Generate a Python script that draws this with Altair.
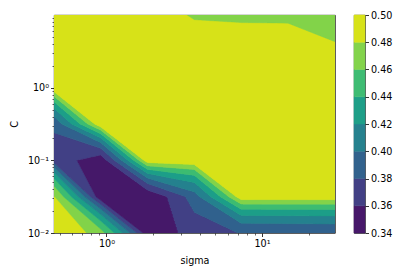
import numpy as np
import pandas as pd
import altair as alt

# grid of the parameter search
sigma = [0.46, 0.92, 1.84, 3.68, 7.36, 14.72, 29.44]
C_values = [0.01, 0.0316, 0.1, 0.316, 1.0, 3.16, 10.0]

# scores, one list per C value (bottom to top), across sigma
score_C0 = [0.500, 0.468, 0.345, 0.371, 0.381, 0.382, 0.383]
score_C1 = [0.482, 0.341, 0.344, 0.392, 0.495, 0.495, 0.495]
score_C2 = [0.369, 0.347, 0.496, 0.500, 0.500, 0.500, 0.500]
score_C3 = [0.386, 0.500, 0.500, 0.500, 0.500, 0.500, 0.500]
score_C4 = [0.500, 0.500, 0.500, 0.500, 0.500, 0.500, 0.500]
score_C5 = [0.500, 0.500, 0.500, 0.500, 0.500, 0.500, 0.482]
score_C6 = [0.500, 0.500, 0.500, 0.475, 0.471, 0.470, 0.470]

levels = [0.34, 0.36, 0.38, 0.40, 0.42, 0.44, 0.46, 0.48, 0.50]
band_colors = ["#47186A", "#424085", "#32628D", "#26818E",
               "#1E9F88", "#3EBC73", "#83D34B", "#D7E219"]

x_ticks = [0.5, 0.6, 0.7, 0.8, 0.9, 1, 2, 3, 4, 5, 6, 7, 8, 9, 10, 20]
y_ticks = [round(k * 10.0 ** e, 10) for e in (-2, -1, 0) for k in range(1, 10)]

# ---- filled-contour geometry (linear interpolation along grid edges) ----
S = np.array(sigma)
Cv = np.array(C_values)
Z = np.array([score_C0, score_C1, score_C2, score_C3, score_C4, score_C5, score_C6])
LX = np.log10(S)
LY = np.log10(Cv)
nb = len(levels) - 1


def cell_polys(i, j):
    corners = [(i, j), (i, j + 1), (i + 1, j + 1), (i + 1, j)]
    out = []
    for b in range(nb):
        lo, hi = levels[b], levels[b + 1]
        pts = []
        for k in range(4):
            p = corners[k]
            q = corners[(k + 1) % 4]
            zp, zq = Z[p], Z[q]
            if lo <= zp <= hi:
                pts.append((LX[p[1]], LY[p[0]]))
            ts = []
            for L in (lo, hi):
                if (zp - L) * (zq - L) < 0:
                    ts.append((L - zp) / (zq - zp))
            for t in sorted(ts):
                s = S[p[1]] + t * (S[q[1]] - S[p[1]])
                c = Cv[p[0]] + t * (Cv[q[0]] - Cv[p[0]])
                pts.append((np.log10(s), np.log10(c)))
        if len(pts) >= 3:
            out.append((b, pts))
    return out


polys = {(i, j): cell_polys(i, j) for i in range(len(Cv) - 1) for j in range(len(S) - 1)}
ncol = 281
xmin, xmax = LX[0], LX[-1]
dx = (xmax - xmin) / ncol
recs = []
for k in range(ncol):
    xc = xmin + (k + 0.5) * dx
    j = int(min(max(np.searchsorted(LX, xc) - 1, 0), len(S) - 2))
    segs = []
    for i in range(len(Cv) - 1):
        for b, pts in polys[(i, j)]:
            ys = []
            n = len(pts)
            for m in range(n):
                (ax_, ay_), (bx_, by_) = pts[m], pts[(m + 1) % n]
                if (ax_ <= xc < bx_) or (bx_ <= xc < ax_):
                    ys.append(ay_ + (xc - ax_) * (by_ - ay_) / (bx_ - ax_))
            ys.sort()
            for m in range(0, len(ys) - 1, 2):
                segs.append([ys[m], ys[m + 1], b])
    segs.sort()
    merged = []
    for sg in segs:
        if merged and merged[-1][2] == sg[2] and abs(merged[-1][1] - sg[0]) < 1e-7:
            merged[-1][1] = sg[1]
        else:
            merged.append(list(sg))
    for y0, y1, b in merged:
        recs.append({"s0": 10 ** (xmin + k * dx), "s1": 10 ** (xmin + (k + 1) * dx),
                     "c0": 10 ** y0, "c1": 10 ** y1, "band": b})

df = pd.DataFrame(recs)

color_scale = alt.Scale(domain=list(range(nb)), range=band_colors)

major_test = "abs(log(datum.value)/LN10 - round(log(datum.value)/LN10)) < 1e-6"
tick_size = {"condition": {"test": major_test, "value": 3.5}, "value": 2}
tick_width = {"condition": {"test": major_test, "value": 0.8}, "value": 0.6}

x_labels = "datum.value == 1 ? '10\u2070' : (datum.value == 10 ? '10\u00b9' : '')"
y_labels = ("abs(datum.value - 0.01) < 1e-9 ? '10\u207b\u00b2' : "
            "(abs(datum.value - 0.1) < 1e-9 ? '10\u207b\u00b9' : "
            "(abs(datum.value - 1) < 1e-9 ? '10\u2070' : ''))")

main = alt.Chart(df).mark_rect(strokeWidth=0.5, clip=True).encode(
    x=alt.X("s0:Q", scale=alt.Scale(type="log", domain=[sigma[0], sigma[-1]], nice=False),
            axis=alt.Axis(title="sigma", values=x_ticks, labelExpr=x_labels,
                          tickSize=tick_size, tickWidth=tick_width, labelOverlap=False,
                          titlePadding=7)),
    x2="s1:Q",
    y=alt.Y("c0:Q", scale=alt.Scale(type="log", domain=[C_values[0], C_values[-1]], nice=False),
            axis=alt.Axis(title="C", values=y_ticks, labelExpr=y_labels,
                          tickSize=tick_size, tickWidth=tick_width, labelOverlap=False,
                          titlePadding=8)),
    y2="c1:Q",
    color=alt.Color("band:O", scale=color_scale, legend=None),
    stroke=alt.Stroke("band:O", scale=color_scale, legend=None),
).properties(width=281, height=218)

cb_df = pd.DataFrame({"lo": levels[:-1], "hi": levels[1:], "band": list(range(nb))})
cbar = alt.Chart(cb_df).mark_rect(strokeWidth=0.5).encode(
    y=alt.Y("lo:Q", scale=alt.Scale(domain=[levels[0], levels[-1]], nice=False, zero=False),
            axis=alt.Axis(orient="right", values=levels, format=".2f", title=None)),
    y2="hi:Q",
    color=alt.Color("band:O", scale=color_scale, legend=None),
    stroke=alt.Stroke("band:O", scale=color_scale, legend=None),
).properties(width=11, height=218)

chart = alt.hconcat(main, cbar, spacing=17).resolve_scale(
    x="independent", y="independent"
).properties(
    padding={"left": 0, "top": 1, "right": 0, "bottom": 0},
    background="white",
).configure_view(
    stroke="black", strokeWidth=0.8
).configure_axis(
    domain=False, grid=False, tickColor="black", labelColor="black",
    labelFont="DejaVu Sans", labelFontSize=9.6, titleFont="DejaVu Sans",
    titleFontSize=9.6, titleFontWeight="normal", titleColor="black",
    tickSize=3.5, tickWidth=0.8, labelPadding=2
)

chart.save("out.html", embed_options={"renderer": "svg", "actions": False})
